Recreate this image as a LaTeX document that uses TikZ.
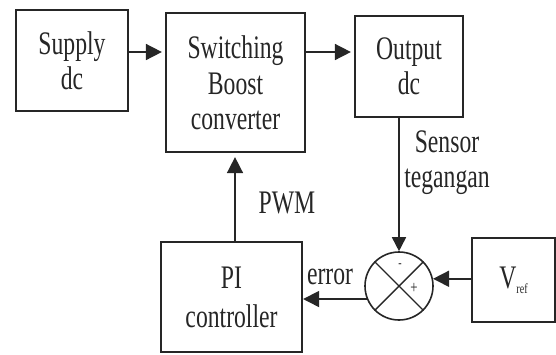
\documentclass[tikz,border=0pt]{standalone}
\usepackage{fontspec}
\setmainfont{Liberation Serif}[FakeStretch=0.72]
\usetikzlibrary{arrows.meta,calc}
\begin{document}
\begin{tikzpicture}[x=1bp,y=-1bp,
  blockbox/.style={draw=black!85,line width=2.2bp,minimum width=#1,inner sep=0pt,align=center,
     font=\fontsize{33}{35}\selectfont,text=black!85},
  conn/.style={draw=black!85,line width=1.6bp,-{Triangle[length=16bp,width=16bp]}},
  lbl/.style={font=\fontsize{33}{35}\selectfont,text=black!85,inner sep=0pt,align=center}]
\useasboundingbox (0,0) rectangle (556,354);
\node[blockbox=112bp,minimum height=101bp] (supply) at (72,60.5) {Supply\\dc};
\node[blockbox=139bp,minimum height=139bp] (switch) at (235.5,82.5) {Switching\\[1bp]Boost\\converter};
\node[blockbox=108bp,minimum height=101bp] (output) at (409,66.5) {Output\\dc};
\node[blockbox=141bp,minimum height=110bp] (pi) at (231.5,297) {PI\\[4bp]controller};
\node[blockbox=83bp,minimum height=84bp] (vref) at (513.5,280) {V\raisebox{-5bp}{\fontsize{14}{14}\selectfont ref}};
\node[draw=black!85,line width=1.6bp,circle,minimum size=68bp,inner sep=0pt] (sum) at (399,286) {};
\draw[black!85,line width=1.4bp] (sum.45) -- (sum.225) (sum.135) -- (sum.315);
\node[lbl,font=\fontsize{14}{14}\selectfont] (minus) at (400,266) {-};
\node[lbl,font=\fontsize{18}{18}\selectfont] (plus) at (414,288) {+};
\draw[conn,shorten >=3bp] (supply.east |- 0,52) -- (switch.west |- 0,52);
\draw[conn,shorten >=3bp] (switch.east |- 0,52) -- (output.west |- 0,52);
\draw[conn,shorten >=4bp] (pi.north -| 235,0) -- (switch.south -| 235,0);
\draw[conn,-{Triangle[length=14bp,width=14bp]}] (sum.north |- output.south) -- (sum.north);
\draw[conn] (vref.west |- sum.12) -- (sum.12);
\draw[conn] (sum.202) -- (pi.east |- sum.202);
\node[lbl] (sensor) at (447,163) {Sensor\\tegangan};
\node[lbl] (pwm) at (287,203) {PWM};
\node[lbl] (err) at (330,277) {error};
\end{tikzpicture}
\end{document}
